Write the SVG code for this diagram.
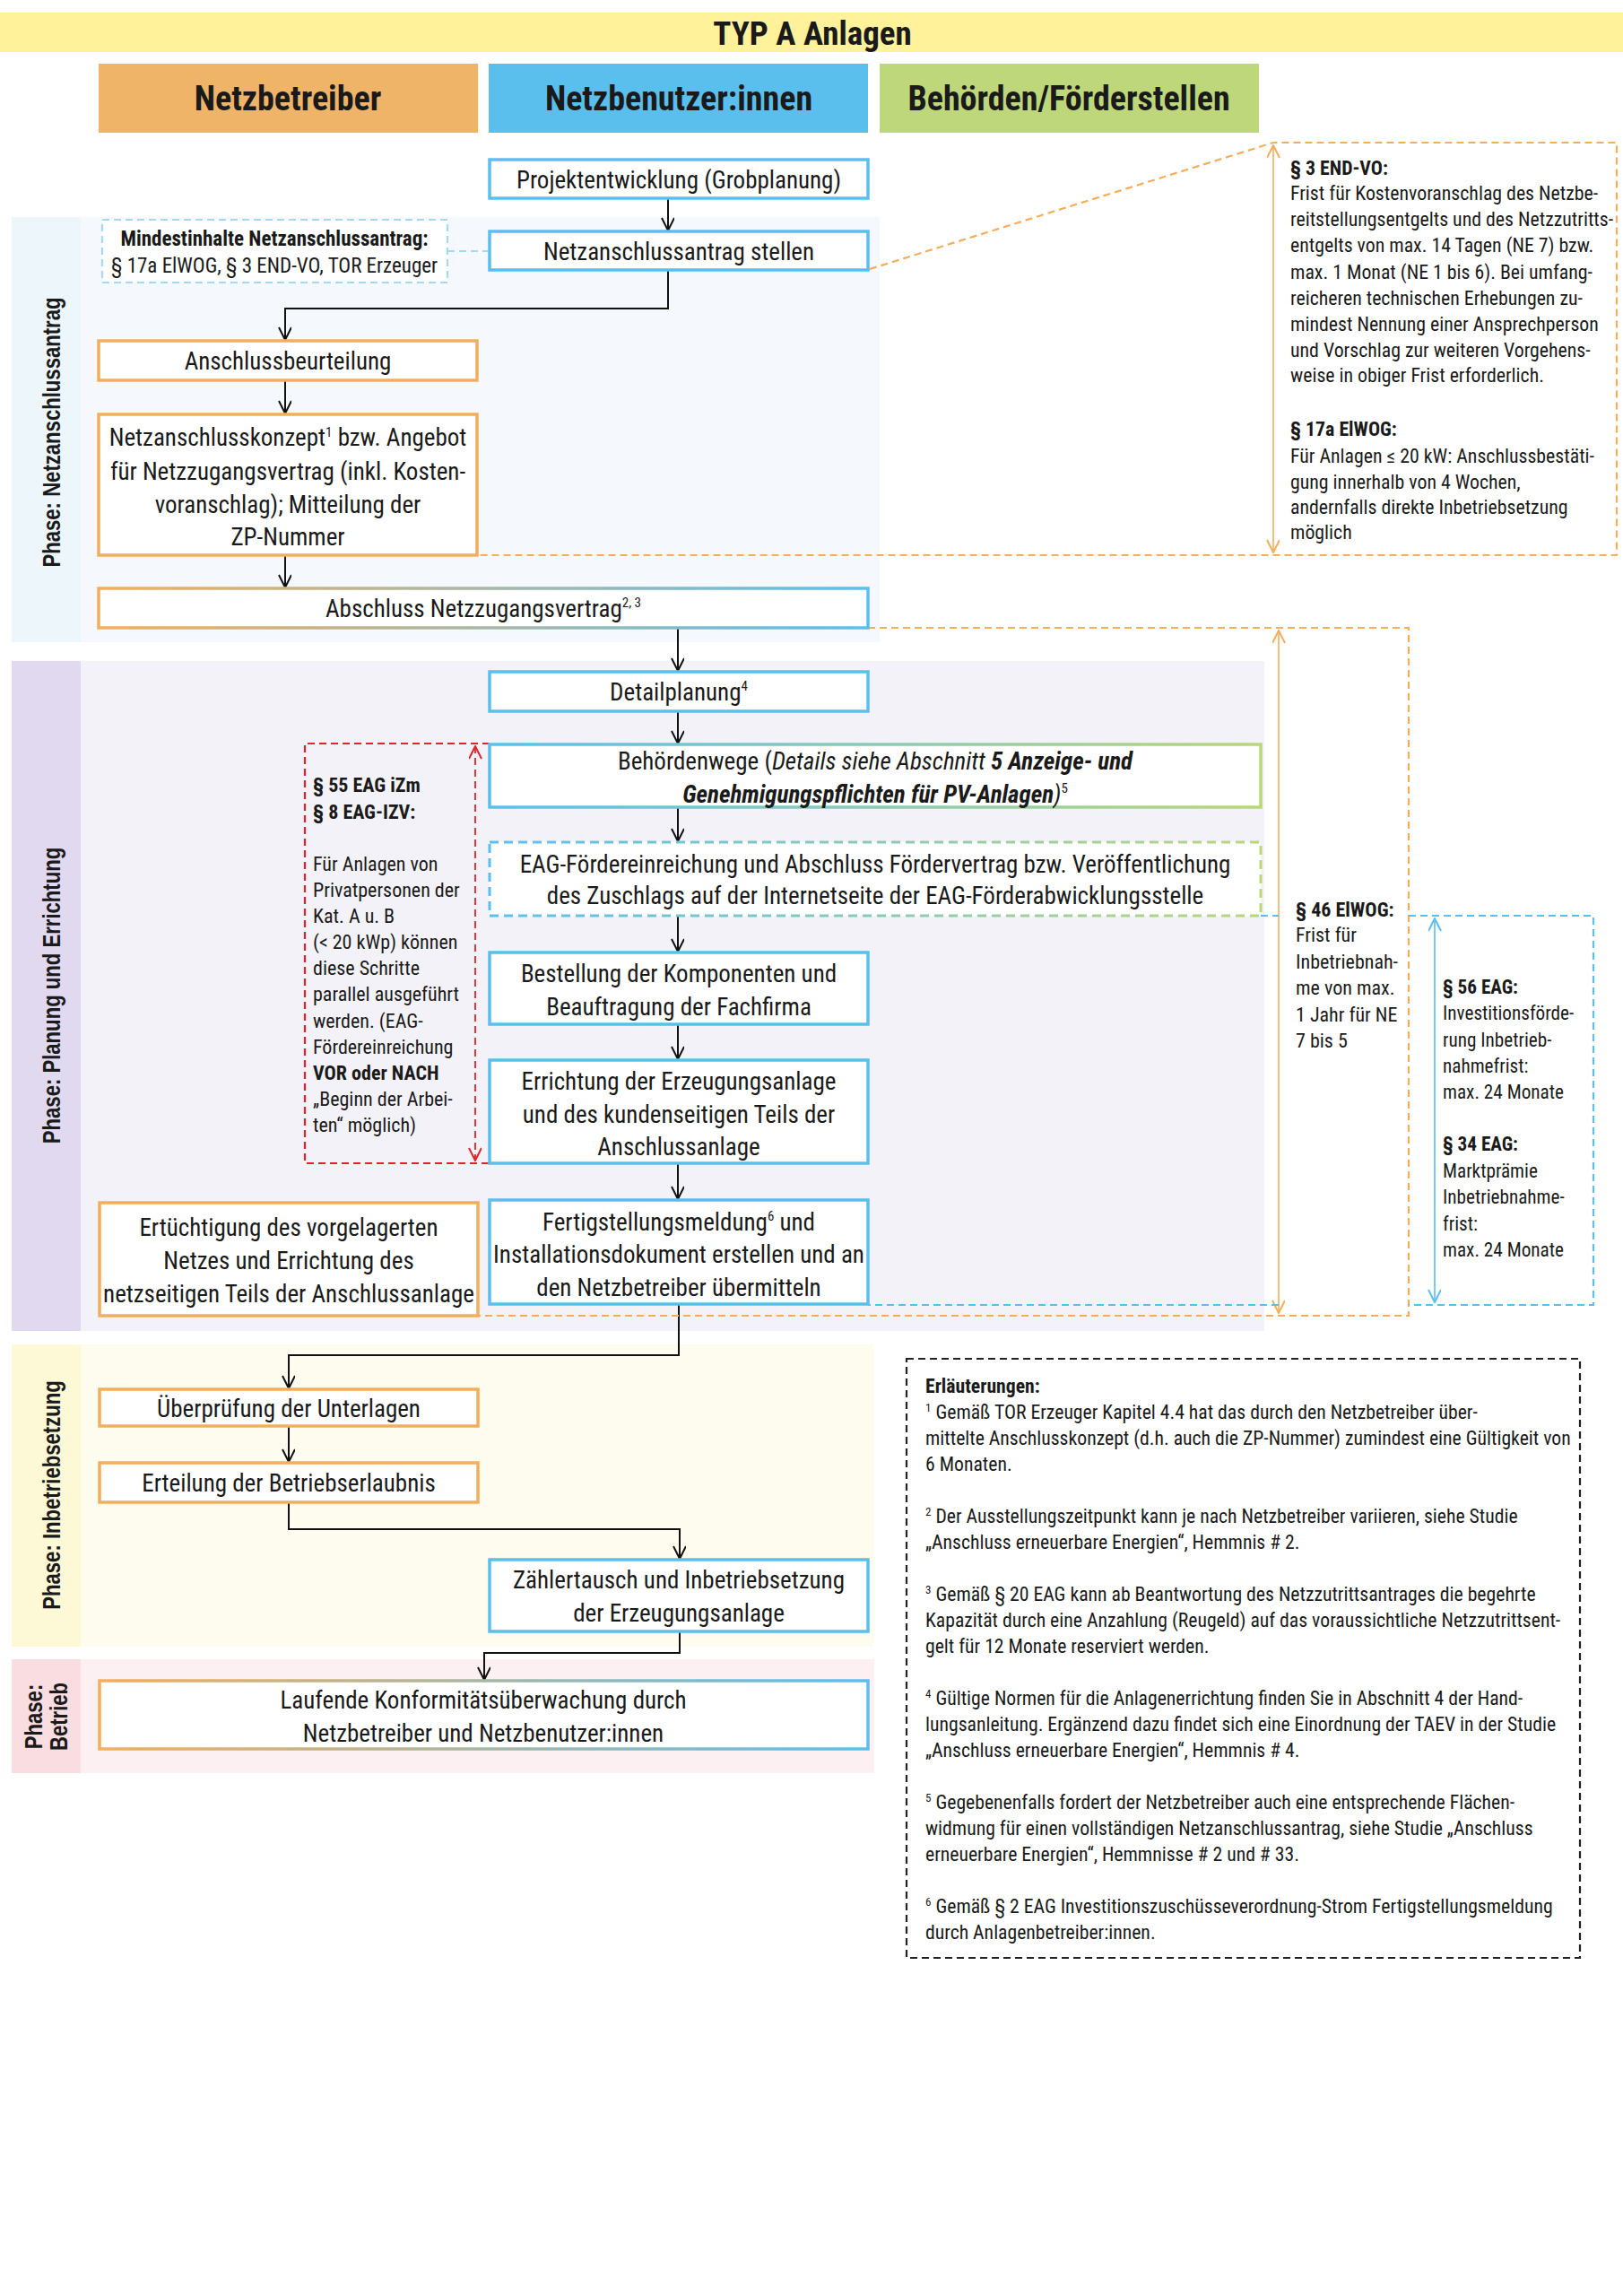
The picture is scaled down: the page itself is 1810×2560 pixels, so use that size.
<svg xmlns="http://www.w3.org/2000/svg" width="1810" height="2560" viewBox="0 0 1810 2560">
<defs>
<style>
text{font-family:"Liberation Sans Narrow","Arial Narrow","Roboto Condensed","DejaVu Sans Condensed",sans-serif;font-stretch:condensed;fill:#1a1a1a}
.bx{font-size:27px;text-anchor:middle}
.hd{font-size:38px;font-weight:bold;text-anchor:middle}
.ph{font-family:"Liberation Sans",Arial,sans-serif;font-stretch:normal;font-size:28px;font-weight:bold;text-anchor:middle}
.nt{font-size:21.8px}
.n46{font-size:22px}
.n56{font-size:21.2px}
.mi{font-size:23px}
.rn{font-size:22px}
.fn{font-size:21.7px}
.b{font-weight:bold}
.i{font-style:italic}
.sup{font-size:15px}
.fs{font-size:13px}
.o{fill:#fff;stroke:#f2ae5c;stroke-width:3.5}
.u{fill:#fff;stroke:#5bbfee;stroke-width:3.5}
.con{fill:none;stroke:#111;stroke-width:2}
.arr{marker-end:url(#ah)}
.od{fill:none;stroke:#f2ae5c;stroke-width:2.2;stroke-dasharray:8 5}
.bd{fill:none;stroke:#5bbfee;stroke-width:2.2;stroke-dasharray:8 5}
.rd{fill:none;stroke:#e0232b;stroke-width:2.2;stroke-dasharray:8 5}
</style>
<marker id="ah" viewBox="0 0 16 16" refX="15" refY="7" markerWidth="16" markerHeight="16" markerUnits="userSpaceOnUse" orient="auto"><path d="M1,0 L15,7 L1,14" fill="none" stroke="#111" stroke-width="2"/></marker>
<marker id="aho" viewBox="0 0 16 16" refX="15" refY="7" markerWidth="16" markerHeight="16" markerUnits="userSpaceOnUse" orient="auto-start-reverse"><path d="M1,0 L15,7 L1,14" fill="none" stroke="#f2ae5c" stroke-width="2"/></marker>
<marker id="ahb" viewBox="0 0 16 16" refX="15" refY="7" markerWidth="16" markerHeight="16" markerUnits="userSpaceOnUse" orient="auto-start-reverse"><path d="M1,0 L15,7 L1,14" fill="none" stroke="#5bbfee" stroke-width="2"/></marker>
<marker id="ahr" viewBox="0 0 16 16" refX="15" refY="7" markerWidth="16" markerHeight="16" markerUnits="userSpaceOnUse" orient="auto-start-reverse"><path d="M1,0 L15,7 L1,14" fill="none" stroke="#e0232b" stroke-width="2"/></marker>
<linearGradient id="gob" x1="0" y1="0" x2="1" y2="0"><stop offset="0" stop-color="#f2ae5c"/><stop offset="1" stop-color="#5bbfee"/></linearGradient>
<linearGradient id="gbg" x1="0" y1="0" x2="1" y2="0"><stop offset="0" stop-color="#5bbfee"/><stop offset="1" stop-color="#b9d67a"/></linearGradient>
</defs>
<rect width="1810" height="2560" fill="#fff"/>

<g id="title">
<rect x="0" y="14" width="1810" height="44" fill="#fff29a"/>
<text x="906" y="50" class="hd" style="font-size:37px">TYP A Anlagen</text>
</g>
<g id="lanes">
<rect x="110" y="71" width="423" height="77" fill="#efb467"/>
<text x="321" y="123" class="hd">Netzbetreiber</text>
<rect x="545" y="71" width="423" height="77" fill="#5bbfee"/>
<text x="757" y="123" class="hd">Netzbenutzer:innen</text>
<rect x="981" y="71" width="423" height="77" fill="#bdd77a"/>
<text x="1192" y="123" class="hd">Behörden/Förderstellen</text>
</g>

<g id="phases">
<rect x="13" y="242" width="77" height="474" fill="#edf6fb"/>
<rect x="90" y="242" width="891" height="474" fill="#f5f9fd"/>
<text class="ph" transform="translate(55,482) rotate(-90) scale(0.79,1)" y="12">Phase: Netzanschlussantrag</text>
<rect x="13" y="737" width="77" height="747" fill="#e1d9ef"/>
<rect x="90" y="737" width="1320" height="747" fill="#f4f2f9"/>
<text class="ph" transform="translate(55,1110) rotate(-90) scale(0.79,1)" y="12">Phase: Planung und Errichtung</text>
<rect x="13" y="1499" width="77" height="337" fill="#fdf8d6"/>
<rect x="90" y="1499" width="885" height="337" fill="#fefcef"/>
<text class="ph" transform="translate(55,1667) rotate(-90) scale(0.79,1)" y="12">Phase: Inbetriebsetzung</text>
<rect x="13" y="1850" width="77" height="127" fill="#f9dde1"/>
<rect x="90" y="1850" width="885" height="127" fill="#fcf0f2"/>
<text class="ph" transform="translate(51,1914) rotate(-90) scale(0.79,1)"><tspan x="0" y="-4">Phase:</tspan><tspan x="0" y="24">Betrieb</tspan></text>
</g>

<g id="connectors">
<path class="con arr" d="M745,221 V257"/>
<path class="con arr" d="M745,301 V344 H318 V379"/>
<path class="con arr" d="M318,424 V461"/>
<path class="con arr" d="M318,619 V655"/>
<path class="con arr" d="M756,700 V748"/>
<path class="con arr" d="M756,793 V829"/>
<path class="con arr" d="M756,900 V938"/>
<path class="con arr" d="M756,1021 V1061"/>
<path class="con arr" d="M756,1142 V1181"/>
<path class="con arr" d="M756,1297 V1337"/>
<path class="con arr" d="M757,1454 V1511 H322 V1548"/>
<path class="con arr" d="M322,1590 V1630"/>
<path class="con arr" d="M322,1675 V1705 H758 V1738"/>
<path class="con arr" d="M758,1819 V1843 H540 V1873"/>
<path class="bd" d="M499,280 H546" style="stroke:#a5d9f1"/>
<path class="od" d="M970,300 L1420,159 H1803 V619 H532"/>
<path class="od" d="M1420,162 V616" style="stroke-dasharray:none;stroke-width:1.6;marker-start:url(#aho);marker-end:url(#aho)"/>
<path class="od" d="M968,700 H1571 V1467 H533"/>
<path class="od" d="M1426,703 V1464" style="stroke-dasharray:none;stroke-width:1.6;marker-start:url(#aho);marker-end:url(#aho)"/>
<path class="bd" d="M1406,1021 H1426 M1571,1021 H1777 V1455 H1571 M1426,1455 H968"/>
<path class="bd" d="M1600,1024 V1452" style="stroke-dasharray:none;stroke-width:1.6;marker-start:url(#ahb);marker-end:url(#ahb)"/>
<path class="rd" d="M546,829 H340 V1297 H546"/>
<path class="rd" d="M530,832 V1294" style="stroke-width:1.8;marker-start:url(#ahr);marker-end:url(#ahr)"/>
</g>

<g id="n-mindest">
<rect x="114" y="245" width="385" height="70" fill="#fff" stroke="#a5d9f1" stroke-width="2.2" stroke-dasharray="8 5"/>
<text x="306" y="274" class="mi b" text-anchor="middle">Mindestinhalte Netzanschlussantrag:</text>
<text x="306" y="304" class="mi" text-anchor="middle">§ 17a ElWOG, § 3 END-VO, TOR Erzeuger</text>
</g>
<g id="n-projekt"><rect x="546" y="178" width="422" height="43" class="u"/><text x="757" y="210" class="bx">Projektentwicklung (Grobplanung)</text></g>
<g id="n-antrag"><rect x="546" y="258" width="422" height="43" class="u"/><text x="757" y="290" class="bx">Netzanschlussantrag stellen</text></g>
<g id="n-beurteilung"><rect x="110" y="380" width="422" height="44" class="o"/><text x="321" y="412" class="bx">Anschlussbeurteilung</text></g>
<g id="n-konzept"><rect x="110" y="462" width="422" height="157" class="o"/>
<text class="bx"><tspan x="321" y="497">Netzanschlusskonzept<tspan class="sup" dy="-10">1</tspan><tspan dy="10"> bzw. Angebot</tspan></tspan><tspan x="321" y="535">für Netzzugangsvertrag (inkl. Kosten-</tspan><tspan x="321" y="572">voranschlag); Mitteilung der</tspan><tspan x="321" y="608">ZP-Nummer</tspan></text></g>
<g id="n-abschluss"><rect x="110" y="656" width="858" height="44" fill="#fff" stroke="url(#gob)" stroke-width="3.5"/><text x="539" y="688" class="bx">Abschluss Netzzugangsvertrag<tspan class="sup" dy="-11">2, 3</tspan></text></g>
<g id="n-detail"><rect x="546" y="749" width="422" height="44" class="u"/><text x="757" y="781" class="bx">Detailplanung<tspan class="sup" dy="-11">4</tspan></text></g>
<g id="n-behoerden"><rect x="546" y="830" width="860" height="70" fill="#fff" stroke="url(#gbg)" stroke-width="3.5"/>
<text class="bx"><tspan x="976" y="858">Behördenwege (<tspan class="i">Details siehe Abschnitt </tspan><tspan class="i b">5 Anzeige- und</tspan></tspan><tspan x="976" y="895"><tspan class="i b">Genehmigungspflichten für PV-Anlagen</tspan><tspan class="i">)</tspan><tspan class="sup" dy="-11">5</tspan></tspan></text></g>
<g id="n-eag"><rect x="546" y="939" width="860" height="82" fill="#fff" stroke="url(#gbg)" stroke-width="3" stroke-dasharray="10 6"/>
<text class="bx"><tspan x="976" y="973">EAG-Fördereinreichung und Abschluss Fördervertrag bzw. Veröffentlichung</tspan><tspan x="976" y="1008">des Zuschlags auf der Internetseite der EAG-Förderabwicklungsstelle</tspan></text></g>
<g id="n-bestellung"><rect x="546" y="1062" width="422" height="80" class="u"/>
<text class="bx"><tspan x="757" y="1095">Bestellung der Komponenten und</tspan><tspan x="757" y="1132">Beauftragung der Fachfirma</tspan></text></g>
<g id="n-errichtung"><rect x="546" y="1182" width="422" height="115" class="u"/>
<text class="bx"><tspan x="757" y="1215">Errichtung der Erzeugungsanlage</tspan><tspan x="757" y="1252">und des kundenseitigen Teils der</tspan><tspan x="757" y="1288">Anschlussanlage</tspan></text></g>
<g id="n-fertig"><rect x="546" y="1338" width="422" height="116" class="u"/>
<text class="bx"><tspan x="757" y="1372">Fertigstellungsmeldung<tspan class="sup" dy="-11">6</tspan><tspan dy="11"> und</tspan></tspan><tspan x="757" y="1408">Installationsdokument erstellen und an</tspan><tspan x="757" y="1445">den Netzbetreiber übermitteln</tspan></text></g>
<g id="n-ertuechtigung"><rect x="111" y="1341" width="422" height="126" class="o"/>
<text class="bx"><tspan x="322" y="1378">Ertüchtigung des vorgelagerten</tspan><tspan x="322" y="1415">Netzes und Errichtung des</tspan><tspan x="322" y="1452">netzseitigen Teils der Anschlussanlage</tspan></text></g>
<g id="n-pruefung"><rect x="111" y="1549" width="422" height="41" class="o"/><text x="322" y="1580" class="bx">Überprüfung der Unterlagen</text></g>
<g id="n-erlaubnis"><rect x="111" y="1631" width="422" height="44" class="o"/><text x="322" y="1663" class="bx">Erteilung der Betriebserlaubnis</text></g>
<g id="n-zaehler"><rect x="546" y="1739" width="422" height="80" class="u"/>
<text class="bx"><tspan x="757" y="1771">Zählertausch und Inbetriebsetzung</tspan><tspan x="757" y="1808">der Erzeugungsanlage</tspan></text></g>
<g id="n-laufend"><rect x="111" y="1874" width="857" height="76" fill="#fff" stroke="url(#gob)" stroke-width="3.5"/>
<text class="bx"><tspan x="539" y="1905">Laufende Konformitätsüberwachung durch</tspan><tspan x="539" y="1942">Netzbetreiber und Netzbenutzer:innen</tspan></text></g>

<g id="n-red">
<text class="rn"><tspan x="349" y="883" class="b">§ 55 EAG iZm</tspan><tspan x="349" y="913" class="b">§ 8 EAG-IZV:</tspan><tspan x="349" y="971">Für Anlagen von</tspan><tspan x="349" y="1000">Privatpersonen der</tspan><tspan x="349" y="1029">Kat. A u. B</tspan><tspan x="349" y="1058">(&lt; 20 kWp) können</tspan><tspan x="349" y="1087">diese Schritte</tspan><tspan x="349" y="1116">parallel ausgeführt</tspan><tspan x="349" y="1146">werden. (EAG-</tspan><tspan x="349" y="1175">Fördereinreichung</tspan><tspan x="349" y="1204" class="b">VOR oder NACH</tspan><tspan x="349" y="1233">„Beginn der Arbei-</tspan><tspan x="349" y="1262">ten“ möglich)</tspan></text>
</g>

<g id="n-end-vo">
<text class="nt"><tspan x="1439" y="195" class="b">§ 3 END-VO:</tspan><tspan x="1439" y="223">Frist für Kostenvoranschlag des Netzbe-</tspan><tspan x="1439" y="252">reitstellungsentgelts und des Netzzutritts-</tspan><tspan x="1439" y="281">entgelts von max. 14 Tagen (NE 7) bzw.</tspan><tspan x="1439" y="311">max. 1 Monat (NE 1 bis 6). Bei umfang-</tspan><tspan x="1439" y="340">reicheren technischen Erhebungen zu-</tspan><tspan x="1439" y="369">mindest Nennung einer Ansprechperson</tspan><tspan x="1439" y="398">und Vorschlag zur weiteren Vorgehens-</tspan><tspan x="1439" y="426">weise in obiger Frist erforderlich.</tspan><tspan x="1439" y="486" class="b">§ 17a ElWOG:</tspan><tspan x="1439" y="516">Für Anlagen ≤ 20 kW: Anschlussbestäti-</tspan><tspan x="1439" y="545">gung innerhalb von 4 Wochen,</tspan><tspan x="1439" y="573">andernfalls direkte Inbetriebsetzung</tspan><tspan x="1439" y="601">möglich</tspan></text>
</g>
<g id="n-elwog46">
<text class="n46"><tspan x="1445" y="1022" class="b">§ 46 ElWOG:</tspan><tspan x="1445" y="1050">Frist für</tspan><tspan x="1445" y="1080">Inbetriebnah-</tspan><tspan x="1445" y="1109">me von max.</tspan><tspan x="1445" y="1139">1 Jahr für NE</tspan><tspan x="1445" y="1168">7 bis 5</tspan></text>
</g>
<g id="n-eag56">
<text class="n56"><tspan x="1609" y="1108" class="b">§ 56 EAG:</tspan><tspan x="1609" y="1137">Investitionsförde-</tspan><tspan x="1609" y="1167">rung Inbetrieb-</tspan><tspan x="1609" y="1196">nahmefrist:</tspan><tspan x="1609" y="1225">max. 24 Monate</tspan><tspan x="1609" y="1283" class="b">§ 34 EAG:</tspan><tspan x="1609" y="1313">Marktprämie</tspan><tspan x="1609" y="1342">Inbetriebnahme-</tspan><tspan x="1609" y="1372">frist:</tspan><tspan x="1609" y="1401">max. 24 Monate</tspan></text>
</g>

<g id="n-erlaeuterungen">
<rect x="1011" y="1515" width="751" height="668" fill="#fff" stroke="#222" stroke-width="2.2" stroke-dasharray="8 5"/>
<text class="fn">
<tspan x="1032" y="1553" class="b">Erläuterungen:</tspan>
<tspan x="1032" y="1582"><tspan class="fs" dy="-8">1</tspan><tspan dy="8"> Gemäß TOR Erzeuger Kapitel 4.4 hat das durch den Netzbetreiber über-</tspan></tspan>
<tspan x="1032" y="1611">mittelte Anschlusskonzept (d.h. auch die ZP-Nummer) zumindest eine Gültigkeit von</tspan>
<tspan x="1032" y="1640">6 Monaten.</tspan>
<tspan x="1032" y="1698"><tspan class="fs" dy="-8">2</tspan><tspan dy="8"> Der Ausstellungszeitpunkt kann je nach Netzbetreiber variieren, siehe Studie</tspan></tspan>
<tspan x="1032" y="1727">„Anschluss erneuerbare Energien“, Hemmnis # 2.</tspan>
<tspan x="1032" y="1785"><tspan class="fs" dy="-8">3</tspan><tspan dy="8"> Gemäß § 20 EAG kann ab Beantwortung des Netzzutrittsantrages die begehrte</tspan></tspan>
<tspan x="1032" y="1814">Kapazität durch eine Anzahlung (Reugeld) auf das voraussichtliche Netzzutrittsent-</tspan>
<tspan x="1032" y="1843">gelt für 12 Monate reserviert werden.</tspan>
<tspan x="1032" y="1901"><tspan class="fs" dy="-8">4</tspan><tspan dy="8"> Gültige Normen für die Anlagenerrichtung finden Sie in Abschnitt 4 der Hand-</tspan></tspan>
<tspan x="1032" y="1930">lungsanleitung. Ergänzend dazu findet sich eine Einordnung der TAEV in der Studie</tspan>
<tspan x="1032" y="1959">„Anschluss erneuerbare Energien“, Hemmnis # 4.</tspan>
<tspan x="1032" y="2017"><tspan class="fs" dy="-8">5</tspan><tspan dy="8"> Gegebenenfalls fordert der Netzbetreiber auch eine entsprechende Flächen-</tspan></tspan>
<tspan x="1032" y="2046">widmung für einen vollständigen Netzanschlussantrag, siehe Studie „Anschluss</tspan>
<tspan x="1032" y="2075">erneuerbare Energien“, Hemmnisse # 2 und # 33.</tspan>
<tspan x="1032" y="2133"><tspan class="fs" dy="-8">6</tspan><tspan dy="8"> Gemäß § 2 EAG Investitionszuschüsseverordnung-Strom Fertigstellungsmeldung</tspan></tspan>
<tspan x="1032" y="2162">durch Anlagenbetreiber:innen.</tspan>
</text>
</g>
</svg>
